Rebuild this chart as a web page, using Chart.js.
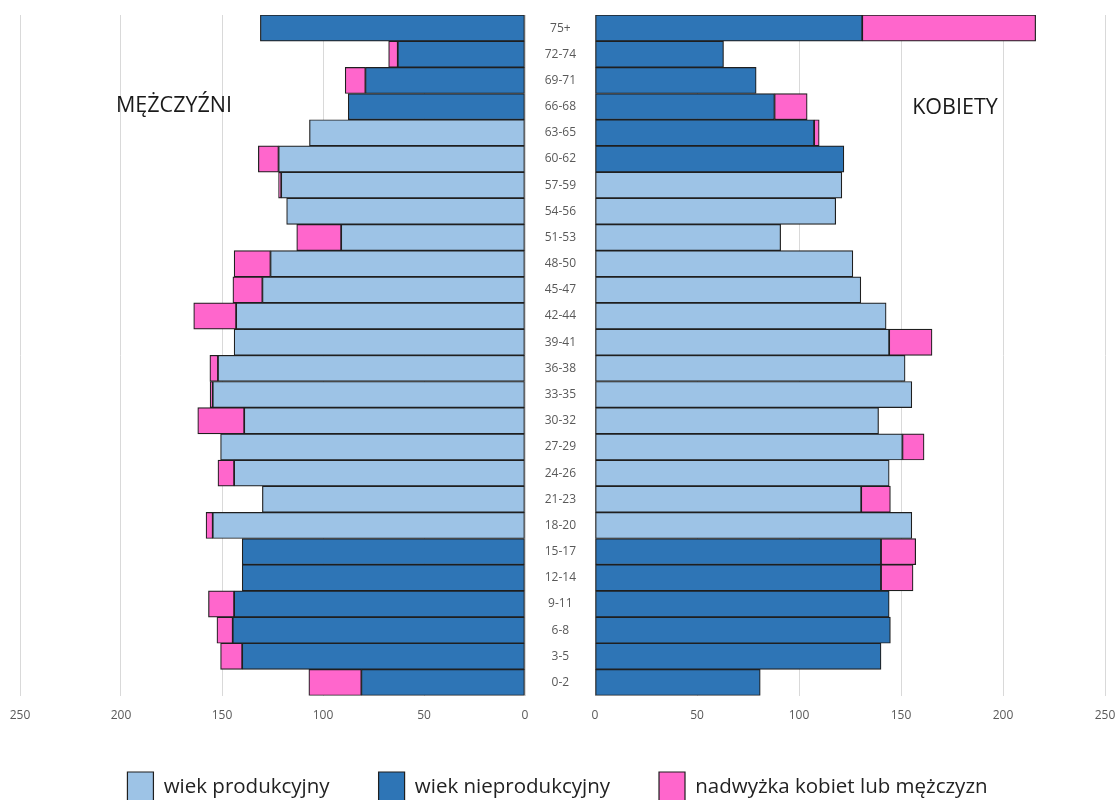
<!DOCTYPE html>
<html>
<head>
<meta charset="utf-8">
<script src="https://cdn.jsdelivr.net/npm/chart.js@4/dist/chart.umd.min.js"></script>
<style>
  body { margin: 0; background: #fff; overflow: hidden; }
  #wrap { position: relative; width: 1119px; height: 800px; }
  #wrap canvas { position: absolute; left: 0; top: 0; }
</style>
</head>
<body>
<div id="wrap">
  <canvas id="menChart" width="1119" height="800"></canvas>
  <canvas id="womenChart" width="1119" height="800"></canvas>
</div>
<script>
// age groups, top to bottom
const ageGroups = ["75+", "72-74", "69-71", "66-68", "63-65", "60-62", "57-59", "54-56", "51-53",
  "48-50", "45-47", "42-44", "39-41", "36-38", "33-35", "30-32", "27-29", "24-26", "21-23",
  "18-20", "15-17", "12-14", "9-11", "6-8", "3-5", "0-2"];

// men (mężczyźni)
const menWorking = [null, null, null, null, 106.7, 122, 120.7, 118, 91, 126, 130, 143, 144,
  152, 154.6, 139, 150.7, 144, 130, 154.6, null, null, null, null, null, null];
const menNonWorking = [131, 63, 79, 87.5, null, null, null, null, null, null, null, null, null,
  null, null, null, null, null, null, null, 140, 140, 144, 144.7, 140, 81];
const menSurplus = [null, 4.5, 10, null, null, 10, 1.3, null, 22, 18, 14.6, 21, null,
  4, 1.3, 23, null, 8, null, 3.3, null, null, 12.7, 7.8, 10.7, 26];

// women (kobiety)
const womenWorking = [null, null, null, null, null, null, 121, 118, 91, 126.4, 130.3, 142.7, 144.2,
  152, 155.3, 139, 150.7, 144.2, 130.5, 155.3, null, null, null, null, null, null];
const womenNonWorking = [131, 63, 79, 88, 107.4, 122, null, null, null, null, null, null, null,
  null, null, null, null, null, null, null, 140.2, 140.2, 144.2, 144.8, 140.2, 81];
const womenSurplus = [85, null, null, 16, 2.5, null, null, null, null, null, null, null, 21,
  null, null, null, 10.6, null, 14.3, null, 17, 15.7, null, null, null, null];

const axisTicks = [0, 50, 100, 150, 200, 250];

const seriesNames = ["wiek produkcyjny", "wiek nieprodukcyjny", "nadwyżka kobiet lub mężczyzn"];
const colors = ["#9dc3e6", "#2e75b6", "#ff66cc"];

const FONT = "'Open Sans', sans-serif";
Chart.defaults.font.family = FONT;
Chart.defaults.animation = false;

function makeDatasets(working, nonWorking, surplus) {
  return [working, nonWorking, surplus].map((data, i) => ({
    label: seriesNames[i],
    data: data,
    backgroundColor: colors[i],
    borderColor: "#1f1f1f",
    borderWidth: 1.2,
    borderSkipped: false,
    barPercentage: 1,
    categoryPercentage: 1,
  }));
}

// tick marks are invisible, their length only pushes the labels down
function xAxis(reverse) {
  return {
    type: "linear",
    stacked: true,
    reverse: reverse,
    min: 0,
    max: 250,
    afterBuildTicks: (scale) => { scale.ticks = axisTicks.map((v) => ({ value: v })); },
    grid: { color: "#d9d9d9", lineWidth: 1, drawTicks: true, tickLength: 13, tickColor: "rgba(0,0,0,0)" },
    border: { display: false },
    ticks: { color: "#595959", font: { size: 12 }, padding: 0 },
  };
}

// side caption drawn on the canvas
function captionPlugin(text, x, y) {
  return {
    id: "caption",
    afterDraw(chart) {
      const ctx = chart.ctx;
      ctx.save();
      ctx.font = "21.5px " + FONT;
      ctx.fillStyle = "#1a1a1a";
      ctx.textAlign = "center";
      ctx.textBaseline = "middle";
      ctx.fillText(text, x, y);
      ctx.restore();
    },
  };
}

// left side: men, reversed axis, legend for the whole figure
const menChart = new Chart(document.getElementById("menChart"), {
  type: "bar",
  data: { labels: ageGroups, datasets: makeDatasets(menWorking, menNonWorking, menSurplus) },
  options: {
    indexAxis: "y",
    responsive: false,
    layout: { padding: { top: 15, left: 20, right: 24, bottom: 0 } },
    scales: {
      x: xAxis(true),
      y: {
        position: "right",
        stacked: true,
        grid: { display: false },
        border: { display: false },
        ticks: { display: false },
        afterFit: (scale) => { scale.width = 570; },
      },
    },
    plugins: {
      tooltip: { enabled: false },
      legend: {
        position: "bottom",
        maxHeight: 77,
        labels: {
          boxWidth: 26,
          boxHeight: 30,
          padding: 49,
          color: "#222",
          font: { size: 20.5 },
        },
      },
    },
  },
  plugins: [captionPlugin("MĘŻCZYŹNI", 174, 106)],
});

// right side: women, category labels sit in the gap between the halves
const womenChart = new Chart(document.getElementById("womenChart"), {
  type: "bar",
  data: { labels: ageGroups, datasets: makeDatasets(womenWorking, womenNonWorking, womenSurplus) },
  options: {
    indexAxis: "y",
    responsive: false,
    layout: { padding: { top: 15, left: 0, right: 14, bottom: 800 - menChart.legend.top } },
    scales: {
      x: xAxis(false),
      y: {
        position: "left",
        stacked: true,
        grid: { display: false, drawTicks: true, tickLength: 19 },
        border: { display: false },
        ticks: { color: "#595959", font: { size: 12 }, crossAlign: "center", padding: 0 },
        afterFit: (scale) => { scale.width = 595; },
      },
    },
    plugins: {
      tooltip: { enabled: false },
      legend: { display: false },
    },
  },
  plugins: [captionPlugin("KOBIETY", 955, 108)],
});
</script>
</body>
</html>
